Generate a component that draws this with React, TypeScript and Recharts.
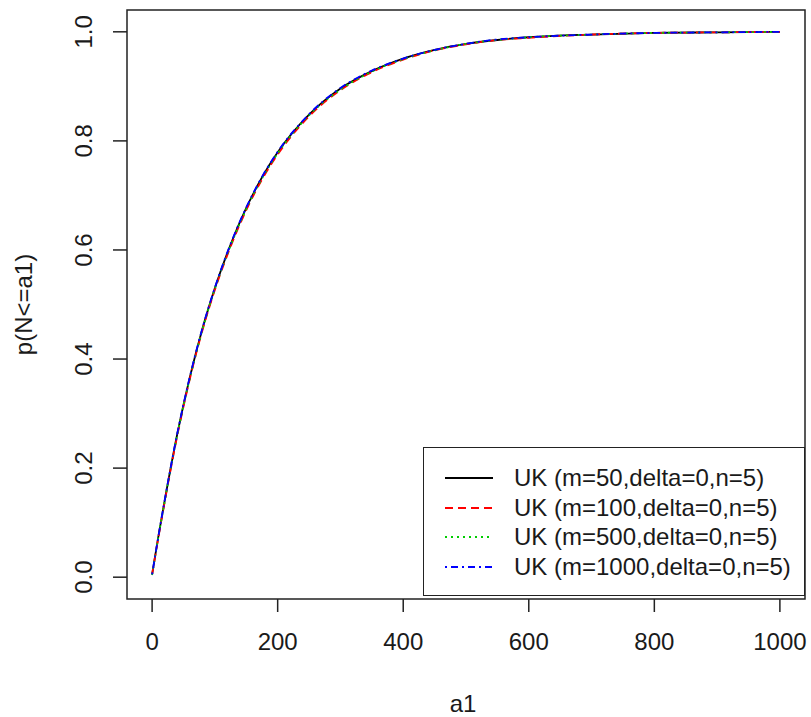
import { Label, Legend, Line, LineChart, ReferenceArea, XAxis, YAxis } from "recharts"

const a1 = [0, 10, 20, 40, 60, 80, 100, 125, 150, 175, 200, 250, 300, 350, 400, 450, 500, 550, 600, 700, 800, 900, 1000]

const m50 = [0.005, 0.075, 0.14, 0.262, 0.366, 0.455, 0.53, 0.61, 0.677, 0.733, 0.779, 0.848, 0.896, 0.928, 0.951, 0.967, 0.978, 0.985, 0.99, 0.995, 0.998, 0.999, 1.0]
const m100 = [0.005, 0.073, 0.138, 0.259, 0.363, 0.452, 0.527, 0.606, 0.673, 0.729, 0.775, 0.845, 0.893, 0.926, 0.949, 0.966, 0.977, 0.985, 0.989, 0.995, 0.998, 0.999, 1.0]
const m500 = [0.004, 0.074, 0.139, 0.261, 0.364, 0.453, 0.529, 0.608, 0.675, 0.731, 0.777, 0.847, 0.894, 0.927, 0.95, 0.966, 0.978, 0.985, 0.99, 0.995, 0.998, 0.999, 1.0]
const m1000 = [0.005, 0.075, 0.141, 0.263, 0.367, 0.456, 0.531, 0.611, 0.678, 0.734, 0.78, 0.849, 0.897, 0.929, 0.951, 0.967, 0.978, 0.986, 0.99, 0.995, 0.998, 0.999, 1.0]

const xTicks = [0, 200, 400, 600, 800, 1000]
const yTicks = [0, 0.2, 0.4, 0.6, 0.8, 1.0]

const series = [
  { key: "m50", name: "UK (m=50,delta=0,n=5)", color: "#000000", dash: undefined },
  { key: "m100", name: "UK (m=100,delta=0,n=5)", color: "#ff0000", dash: "8 5" },
  { key: "m500", name: "UK (m=500,delta=0,n=5)", color: "#00cd00", dash: "2 4" },
  { key: "m1000", name: "UK (m=1000,delta=0,n=5)", color: "#0000ff", dash: "2 4 7 4" },
]

const data = a1.map((a, i) => ({ a1: a, m50: m50[i], m100: m100[i], m500: m500[i], m1000: m1000[i] }))

const font = "'Liberation Sans', Arial, sans-serif"
const ink = "#1a1a1a"

function XTick({ x, y, payload }: any) {
  return (
    <text x={x} y={y} dy="0.71em" textAnchor="middle" fontFamily={font} fontSize={24} fill={ink}>
      {payload.value}
    </text>
  )
}

function YTick({ x, y, payload }: any) {
  return (
    <text x={x} y={y} textAnchor="middle" transform={`rotate(-90, ${x}, ${y})`} fontFamily={font} fontSize={24} fill={ink}>
      {payload.value.toFixed(1)}
    </text>
  )
}

function LegendBox() {
  return (
    <div style={{ width: 382, height: 149, border: "1.5px solid #222", boxSizing: "border-box", background: "#fff", position: "relative" }}>
      {series.map((s, i) => (
        <div key={s.key} style={{ position: "absolute", left: 0, top: 30 + i * 29.5 - 15, height: 30, display: "flex", alignItems: "center" }}>
          <svg width={90} height={30}>
            <line x1={21} x2={69} y1={15} y2={15} stroke={s.color} strokeWidth={1.8} strokeDasharray={s.dash} />
          </svg>
          <span style={{ fontFamily: font, fontSize: 24, color: ink, whiteSpace: "nowrap" }}>{s.name}</span>
        </div>
      ))}
    </div>
  )
}

export default function App() {
  return (
    <div style={{ position: "absolute", left: 0, top: 0, background: "#fff" }}>
      <LineChart width={811} height={717} data={data} margin={{ top: 10, right: 6, bottom: 0, left: 0 }}>
        <XAxis
          dataKey="a1"
          type="number"
          domain={[-40, 1040]}
          ticks={xTicks}
          allowDataOverflow
          axisLine={false}
          tickSize={13}
          tickMargin={21}
          tickLine={{ stroke: "#222", strokeWidth: 1.5 }}
          tick={<XTick />}
          height={118}
        >
          <Label
            content={({ viewBox }: any) => (
              <text x={viewBox.x + viewBox.width / 2 - 3} y={viewBox.y + 113} textAnchor="middle" fontFamily={font} fontSize={24} fill={ink}>
                a1
              </text>
            )}
          />
        </XAxis>
        <YAxis
          type="number"
          domain={[-0.04, 1.04]}
          ticks={yTicks}
          allowDataOverflow
          axisLine={false}
          tickSize={14}
          tickMargin={21}
          tickLine={{ stroke: "#222", strokeWidth: 1.5 }}
          tick={<YTick />}
          width={127}
        >
          <Label
            content={({ viewBox }: any) => {
              const cy = viewBox.y + viewBox.height / 2
              return (
                <text x={32} y={cy} textAnchor="middle" transform={`rotate(-90, 32, ${cy})`} fontFamily={font} fontSize={24} fill={ink}>
                  {"p(N<=a1)"}
                </text>
              )
            }}
          />
        </YAxis>
        <ReferenceArea x1={-40} x2={1040} y1={-0.04} y2={1.04} fill="none" stroke="#222" strokeWidth={1.5} ifOverflow="visible" />
        {series.map((s) => (
          <Line
            key={s.key}
            dataKey={s.key}
            name={s.name}
            type="monotone"
            stroke={s.color}
            strokeWidth={1.8}
            strokeDasharray={s.dash}
            dot={false}
            activeDot={false}
            isAnimationActive={false}
          />
        ))}
        <Legend
          layout="horizontal"
          verticalAlign="middle"
          align="center"
          content={() => <LegendBox />}
          wrapperStyle={{ left: 423, top: 447, width: 382, height: 149 }}
        />
      </LineChart>
    </div>
  )
}
